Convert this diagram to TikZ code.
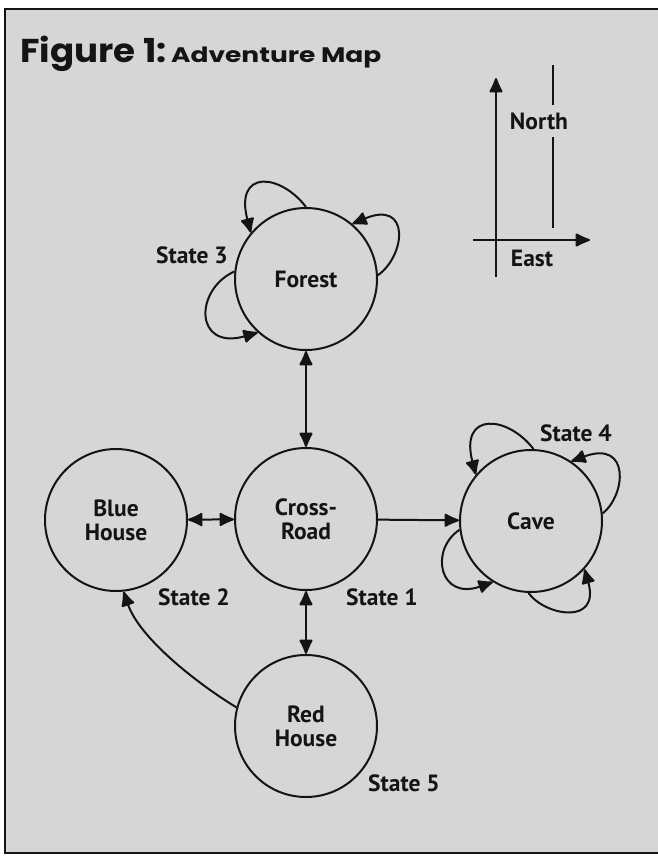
\documentclass[tikz,border=0pt]{standalone}
\usepackage{fontspec}
\setmainfont{PT Sans}
\newfontfamily\titlefont{Poppins}
\usetikzlibrary{arrows.meta}
\definecolor{bg}{RGB}{214,214,214}
\definecolor{ink}{RGB}{20,20,20}
\tikzset{
  blob/.tip={Latex[length=17pt,width=15pt,round]}
}
\begin{document}
\begin{tikzpicture}[x=1pt,y=-1pt,
  state/.style={circle,draw=ink,line width=2pt,minimum size=142pt,inner sep=0pt,
    align=center,text=ink,font=\fontsize{23.5}{24}\selectfont\bfseries},
  lbl/.style={text=ink,font=\fontsize{23.5}{24}\selectfont\bfseries,inner sep=0pt},
  conn/.style={draw=ink,line width=2pt},
  tip/.style={-blob},
  tiptwo/.style={blob-blob}
]
\useasboundingbox (0,0) rectangle (657,857);
\fill[white] (0,0) rectangle (657,857);
\fill[bg] (5,9) rectangle (660,853);
\draw[ink,line width=2pt] (662,9) -- (5,9) -- (5,853) -- (662,853);

% title
\node[anchor=base west,inner sep=0pt,text=ink] (title) at (20,62)
  {\titlefont\bfseries\fontsize{33}{33}\selectfont\scalebox{1.08}[1]{Figure 1:}\fontsize{21}{21}\selectfont\ \scalebox{1.26}[1]{Adventure Map}};

% states
\node[state] (forest) at (306,279) {Forest};
\node[state] (cross) at (306,519) {Cross-\\Road};
\node[state] (blue) at (116,520) {Blue\\House};
\node[state] (cave) at (531,521) {Cave};
\node[state] (red) at (306,726) {Red\\House};

% labels
\node[lbl] (s3) at (192,255) {State 3};
\node[lbl] (s4) at (576,433) {State 4};
\node[lbl] (s2) at (194,597) {State 2};
\node[lbl] (s1) at (382,597) {State 1};
\node[lbl] (s5) at (404,783) {State 5};

% connectors
\draw[conn,tiptwo] (forest) -- (cross);
\draw[conn,tiptwo] (blue) -- (cross);
\draw[conn,tip] (cross) -- (cave);
\draw[conn,tiptwo] (cross) -- (red);
\draw[conn,tip] (red.165) .. controls +(-37.4,-22.6) and +(16.4,47.4) .. (blue.276);

% forest loops
\draw[conn,tip] (forest.90) .. controls +(-26,-34) and +(-16.6,-63.4) .. (forest.140);
\draw[conn,tip] (forest.3) .. controls +(28,-20) and +(58.4,-24.6) .. (forest.50);
\draw[conn,tip] (forest.174) .. controls +(-40.4,18.4) and +(-63.5,18.2) .. (forest.228);

% cave loops
\draw[conn,tip] (cave.88) .. controls +(-26,-34) and +(-16.6,-63.4) .. (cave.140);
\draw[conn,tip] (cave.6) .. controls +(23.4,-18.6) and +(59.3,-22.1) .. (cave.56);
\draw[conn,tip] (cave.187) .. controls +(-30.5,20.3) and +(-53.4,18.8) .. (cave.238);
\draw[conn,tip] (cave.268) .. controls +(16.5,23) and +(16.2,56.5) .. (cave.318);

% compass
\coordinate (nS) at (496,277);
\coordinate (nN) at (496,78);
\coordinate (eW) at (473,240);
\coordinate (eE) at (590,240);
\coordinate (gT) at (553,65);
\coordinate (gB) at (553,228);
\draw[conn,tip] (nS) -- (nN);
\draw[conn,tip] (eW) -- (eE);
\draw[conn] (gT) -- (gB);
\node[lbl,fill=bg,inner xsep=1pt,inner ysep=8pt] (north) at (539,121) {North};
\node[lbl] (east) at (532,258) {East};
\end{tikzpicture}
\end{document}
